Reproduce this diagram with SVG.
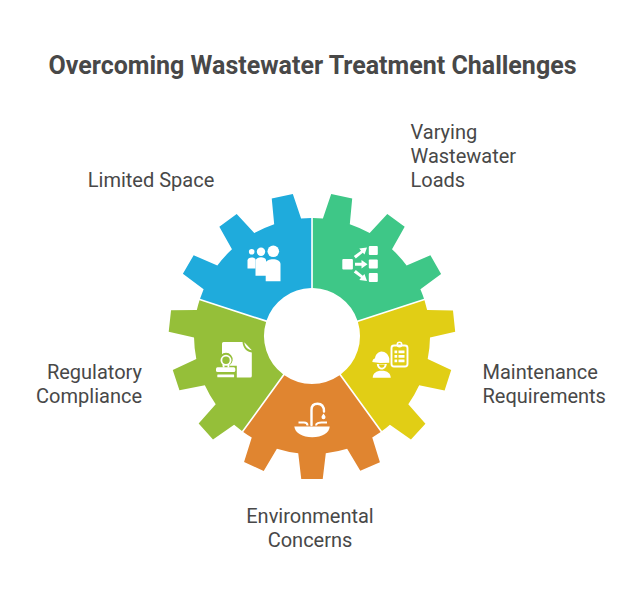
<svg xmlns="http://www.w3.org/2000/svg" width="636" height="601" viewBox="0 0 636 601">
<defs>
<style>
text{font-family:Roboto,"Liberation Sans",sans-serif;fill:#484848}
.t{font-size:25px;font-weight:700}
.l{font-size:20px}
.w{fill:#fff}
</style>
<path id="seg" d="M.85 -118L10.9 -117.5 19.2 -142 40.2 -137.5 37.8 -111.8A118 118 0 0 1 57.7 -102.9L75.3 -121.9 92.7 -109.3 80 -86.7A118 118 0 0 1 94.6 -70.5L118.4 -80.8 129.1 -62.1 108.4 -46.7A118 118 0 0 1 112 -37.2L45.4 -15.6A48 48 0 0 0 .85 -48Z"/>
</defs>
<rect width="636" height="601" fill="#fff"/>
<text class="t" x="312.500" y="73.500" text-anchor="middle">Overcoming Wastewater Treatment Challenges</text>
<g id="node-varying-wastewater-loads">
<use href="#seg" transform="translate(312 336)" fill="#3EC787"/>
<rect class="w" x="342.300" y="259" width="10.600" height="10.600" rx="1"/>
<rect class="w" x="368.800" y="246" width="9" height="9" rx="1"/>
<rect class="w" x="368.800" y="259.500" width="9" height="9" rx="1"/>
<rect class="w" x="368.800" y="273" width="9" height="9" rx="1"/>
<path class="w" d="M353.800 256L361 250.700 359.300 248.500 367 247.500 364.500 254.500 362.800 252.800 355.800 258.500ZM355 262.700H361.500V260L367.500 264.200 361.500 268.500V265.800H355ZM353.800 272.500L355.800 270 362.800 275.700 364.500 274 367 281 359.300 280 361 277.800Z"/>
<text class="l"><tspan x="410.500" y="138.500">Varying</tspan><tspan x="410.500" y="162.500">Wastewater</tspan><tspan x="410.500" y="186.500">Loads</tspan></text>
</g>
<g id="node-maintenance-requirements">
<use href="#seg" transform="translate(312 336) rotate(72)" fill="#E1CE15"/>
<rect x="391.500" y="345.500" width="16" height="21" rx="2.500" fill="none" stroke="#fff" stroke-width="1.900"/>
<circle cx="399.500" cy="344.500" r="2.200" fill="none" stroke="#fff" stroke-width="1.600"/>
<path class="w" d="M394.500 350.500h2.700v2.700h-2.700zM398.500 350.500h6v2.700h-6zM394.500 355h2.700v2.700h-2.700zM398.500 355h6v2.700h-6zM394.500 359.500h2.700v2.700h-2.700zM398.500 359.500h6v2.700h-6z"/>
<path class="w" d="M372.300 362C372.500 359.500 374 358.800 375 358.300C375.500 354.500 378 352 381.500 351.500C385.500 351.500 388.500 354.500 389.300 358.500V362.700L380 363ZM376.800 364H386.800C386.500 367 384.500 369.500 381.800 369.500C379 369.500 377 367 376.800 364ZM372.700 377.700C373 373.500 376 370.800 381.800 370.800C387.500 370.800 390.500 373.500 390.800 377.700Z"/>
<path d="M378.800 364.500C379.100 366.500 380.500 367.800 381.800 367.800C383.200 367.800 384.500 366.500 384.800 364.500Z" fill="#E1CE15"/>
<text class="l"><tspan x="482.500" y="378.500">Maintenance</tspan><tspan x="482.500" y="402.500">Requirements</tspan></text>
</g>
<g id="node-environmental-concerns">
<use href="#seg" transform="translate(312 336) rotate(144)" fill="#E08530"/>
<path class="w" d="M294.300 426.500H329.700C329.500 433 322 437.300 312.200 437.300C302.500 437.300 295 433 294.300 426.500Z"/>
<path d="M311.500 425V410C311.500 405.800 314 403.800 317.500 403.800C321.500 403.800 324 406.300 324 411.500" fill="none" stroke="#fff" stroke-width="2.400" stroke-linecap="round"/>
<path d="M298.500 422.500H304C306.500 422.500 307.500 424 307.500 425.500M327 422.500H321.500C319 422.500 316 423.500 316 425.500" fill="none" stroke="#fff" stroke-width="2"/>
<path class="w" d="M323.500 413.500C324.500 415 325.500 416 325.500 417.200A2 2 0 0 1 321.500 417.200C321.500 416 322.500 415 323.500 413.500Z"/>
<text class="l" text-anchor="middle"><tspan x="310" y="522.500">Environmental</tspan><tspan x="310" y="546.500">Concerns</tspan></text>
</g>
<g id="node-regulatory-compliance">
<use href="#seg" transform="translate(312 336) rotate(216)" fill="#95BF39"/>
<path class="w" d="M223.500 342H242.500C243 347.500 246 351.500 251.800 352.500V376A1.500 1.500 0 0 1 250.300 377.500H223.500A1.500 1.500 0 0 1 222 376V343.500A1.500 1.500 0 0 1 223.500 342Z"/>
<path class="w" d="M244.300 342.300L251.800 350.300C248 350 244.800 347 244.300 342.300Z"/>
<path d="M214.500 365.800H222.500V365.200A6.700 6.700 0 1 1 229.500 365.200V365.800H236.800V379H214.500Z" fill="#95BF39"/>
<circle cx="226" cy="360.300" r="4.600" fill="none" stroke="#fff" stroke-width="1.800"/>
<path d="M223.600 364.500V367.500M228.400 364.500V367.500" stroke="#fff" stroke-width="1.800" fill="none"/>
<rect class="w" x="216" y="367.300" width="19.300" height="4.600" rx="1.500"/>
<rect class="w" x="217.300" y="374.500" width="16.800" height="2.800" rx=".5"/>
<text class="l" text-anchor="end"><tspan x="142" y="378.500">Regulatory</tspan><tspan x="142" y="402.500">Compliance</tspan></text>
</g>
<g id="node-limited-space">
<use href="#seg" transform="translate(312 336) rotate(288)" fill="#1FABDC"/>
<circle class="w" cx="273.300" cy="251.300" r="5.800"/>
<circle class="w" cx="261" cy="251.700" r="4.200"/>
<circle class="w" cx="251.700" cy="251.700" r="2.800"/>
<path class="w" d="M247.500 268.500V260.500C247.500 258.500 249.500 257.500 251.700 257.500C253.500 257.500 255 258.200 255.500 259V268.500Z"/>
<path class="w" d="M255.500 275.700V260C256.500 258.300 258.500 257.200 261 257.200C263.500 257.200 265.500 258.200 266 259.500V275.700Z"/>
<path class="w" d="M265.700 281.300V263C266 260.500 269.500 259.300 273 259.300C277 259.300 280.500 261 280.500 264V281.300Z"/>
<text class="l" x="151" y="186.500" text-anchor="middle">Limited Space</text>
</g>
<g id="connectors"/>
</svg>
